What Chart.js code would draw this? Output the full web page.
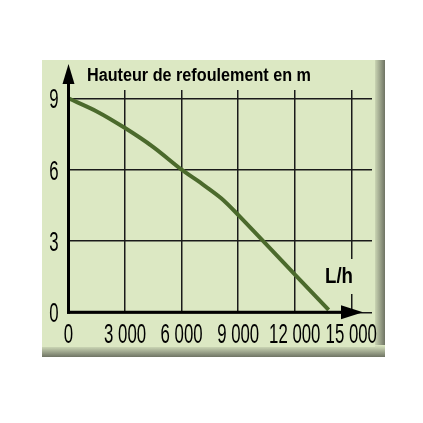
<!DOCTYPE html>
<html>
<head>
<meta charset="utf-8">
<script src="https://cdn.jsdelivr.net/npm/chart.js@4.4.1/dist/chart.umd.min.js"></script>
<style>
  html, body { margin: 0; padding: 0; background: #fff; overflow: hidden; }
  canvas { display: block; }
</style>
</head>
<body>
<canvas id="chart" width="423" height="423" style="width:423px;height:423px"></canvas>
<script>
// Pump curve values
const flowLh = [0, 1500, 3000, 4500, 6000, 7000, 8100, 9000, 12000, 13800];
const headM = [9, 8.45, 7.75, 6.95, 6.0, 5.45, 4.8, 4.1, 1.6, 0.1];
const xTicks = [0, 3000, 6000, 9000, 12000, 15000];
const yTicks = [0, 3, 6, 9];
const yTitle = 'Hauteur de refoulement en m';
const xTitle = 'L/h';

const FONT = "'Liberation Sans', Arial, sans-serif";
const BG = '#dce8c3';

// French thousands with a space
const fmt = v => v >= 1000 ? Math.floor(v / 1000) + ' ' + String(v % 1000).padStart(3, '0') : String(v);

// draw text squeezed horizontally (narrow poster font look)
const narrowText = (ctx, text, x, y, font, sx) => {
    ctx.save();
    ctx.font = font;
    ctx.translate(x, y);
    ctx.scale(sx, 1);
    ctx.fillText(text, 0, 0);
    ctx.restore();
};

const fitScale = (ctx, text, font, w) => {
    ctx.save();
    ctx.font = font;
    const m = ctx.measureText(text).width;
    ctx.restore();
    return w / m;
};

// Bevelled green panel behind the chart, axis arrows and labels
const panel = {
    id: 'panel',
    beforeDraw(chart) {
        const ctx = chart.ctx;
        const L = 42, T = 60, R = 385, B = 357;
        ctx.save();
        ctx.fillStyle = '#fff';
        ctx.fillRect(0, 0, chart.width, chart.height);
        let g = ctx.createLinearGradient(R - 12, 0, R, 0);
        g.addColorStop(0, BG);
        g.addColorStop(1, '#6f7464');
        ctx.fillStyle = g;
        ctx.fillRect(R - 12, T, 12, B - T);
        g = ctx.createLinearGradient(0, B - 12, 0, B);
        g.addColorStop(0, BG);
        g.addColorStop(1, '#6f7464');
        ctx.fillStyle = g;
        ctx.fillRect(L, B - 12, R - L, 12);
        ctx.fillStyle = BG;
        ctx.fillRect(L, T, R - L - 10, B - T - 10);
        ctx.restore();
    },
    afterDatasetsDraw(chart) {
        const ctx = chart.ctx;
        const x = chart.scales.x, y = chart.scales.y;
        const x0 = x.getPixelForValue(0), y0 = y.getPixelForValue(0);
        ctx.save();
        ctx.strokeStyle = '#000';
        ctx.fillStyle = '#000';
        ctx.lineWidth = 3;
        // y axis with arrow
        ctx.beginPath();
        ctx.moveTo(x0, y0 + 1.5);
        ctx.lineTo(x0, 80);
        ctx.stroke();
        ctx.beginPath();
        ctx.moveTo(x0, 64);
        ctx.lineTo(x0 - 6, 84);
        ctx.lineTo(x0 + 6, 84);
        ctx.closePath();
        ctx.fill();
        // x axis with arrow
        ctx.beginPath();
        ctx.moveTo(x0 - 1.5, y0);
        ctx.lineTo(345, y0);
        ctx.stroke();
        ctx.beginPath();
        ctx.moveTo(363, y0);
        ctx.lineTo(341, y0 - 7);
        ctx.lineTo(341, y0 + 7);
        ctx.closePath();
        ctx.fill();

        // tick labels
        const tickFont = '27px ' + FONT;
        const sx = fitScale(ctx, '3 000', tickFont, 42);
        ctx.textAlign = 'center';
        ctx.textBaseline = 'alphabetic';
        x.ticks.forEach(t => {
            narrowText(ctx, fmt(t.value), x.getPixelForValue(t.value), 343, tickFont, sx);
        });
        y.ticks.forEach(t => {
            narrowText(ctx, String(t.value), 54, y.getPixelForValue(t.value) + 10, tickFont, sx);
        });

        // axis titles
        const titleFont = 'bold 18px ' + FONT;
        ctx.textAlign = 'left';
        narrowText(ctx, yTitle, 87, 81, titleFont, fitScale(ctx, yTitle, titleFont, 224));
        const xt = x.getPixelForValue(15000);
        ctx.fillStyle = BG;
        ctx.fillRect(xt - 14, 259, 28, 35);
        ctx.fillStyle = '#000';
        const lhFont = 'bold 22px ' + FONT;
        narrowText(ctx, xTitle, 325, 283, lhFont, fitScale(ctx, xTitle, lhFont, 28));
        ctx.restore();
    }
};

new Chart(document.getElementById('chart'), {
    type: 'line',
    data: {
        datasets: [{
            data: flowLh.map((v, i) => ({ x: v, y: headM[i] })),
            borderColor: '#4b6a2c',
            borderWidth: 4,
            pointRadius: 0,
            tension: 0.3,
            fill: false
        }]
    },
    options: {
        responsive: false,
        devicePixelRatio: 1,
        animation: false,
        layout: { padding: { top: 90, right: 51, left: 0, bottom: 0 } },
        plugins: { legend: { display: false }, tooltip: { enabled: false } },
        scales: {
            x: {
                type: 'linear',
                min: 0,
                max: 16100,
                afterBuildTicks: s => { s.ticks = xTicks.map(v => ({ value: v })); },
                afterFit: s => { s.height = 110.7; },
                grid: { color: '#1a1a1a', lineWidth: 1.5, drawTicks: false },
                border: { display: false },
                ticks: { display: false }
            },
            y: {
                min: 0,
                max: 9.35,
                afterBuildTicks: s => { s.ticks = yTicks.map(v => ({ value: v })); },
                afterFit: s => { s.width = 68.5; },
                grid: { color: '#1a1a1a', lineWidth: 1.5, drawTicks: false },
                border: { display: false },
                ticks: { display: false }
            }
        }
    },
    plugins: [panel]
});
</script>
</body>
</html>
